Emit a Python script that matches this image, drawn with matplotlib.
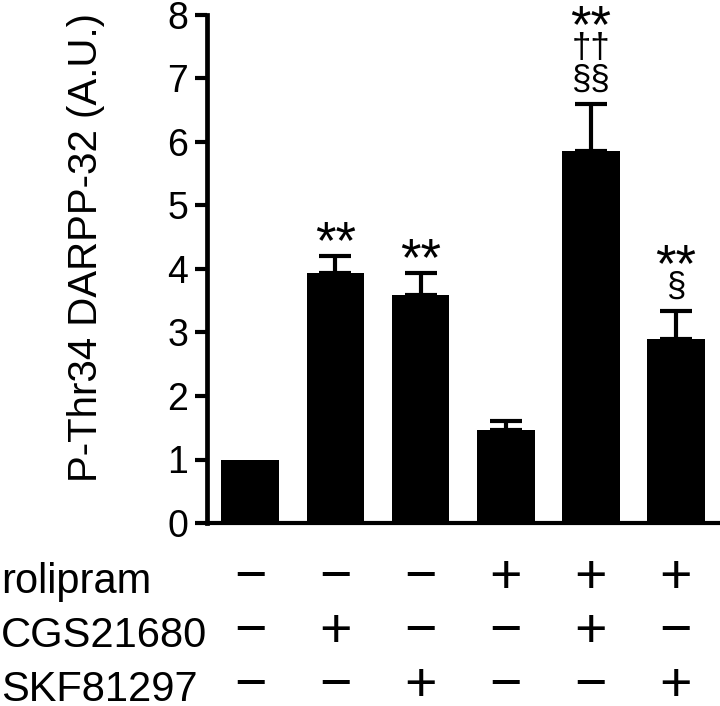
import matplotlib
matplotlib.use("Agg")
import matplotlib.pyplot as plt
import matplotlib.transforms as mtransforms
from matplotlib.textpath import TextPath
from matplotlib.font_manager import FontProperties
import numpy as np

# ---- data ----
values = [1.0, 3.94, 3.59, 1.46, 5.86, 2.90]
sem = [0.0, 0.27, 0.35, 0.15, 0.74, 0.44]
rolipram = ["−", "−", "−", "+", "+", "+"]
cgs21680 = ["−", "+", "−", "−", "+", "−"]
skf81297 = ["−", "−", "+", "−", "−", "+"]
row_labels = ["rolipram", "CGS21680", "SKF81297"]
sections = ["", "", "", "", "§§", "§"]
daggers = ["", "", "", "", "††", ""]
stars = ["", "**", "**", "", "**", "**"]
yticks = [0, 1, 2, 3, 4, 5, 6, 7, 8]
ylabel = "P-Thr34 DARPP-32 (A.U.)"

FONT = "Liberation Sans"
plt.rcParams["font.family"] = [FONT, "DejaVu Sans"]

W, H = 720, 706
fig = plt.figure(figsize=(W / 100, H / 100), dpi=100)
ax = fig.add_axes([207 / W, (H - 523) / H, (W - 207) / W, (523 - 15) / H])

x = np.arange(len(values))
ax.bar(x, values, width=0.68, color="black", edgecolor="black", linewidth=0)
mask = np.array(sem) > 0
ax.errorbar(x[mask], np.array(values)[mask],
            yerr=[np.zeros(mask.sum()), np.array(sem)[mask]],
            fmt="none", ecolor="black", elinewidth=3, capsize=11.5, capthick=3)

ax.set_xlim(-0.51, 5.52)
ax.set_ylim(0, 8)
ax.set_yticks(yticks)
ax.set_xticks([])
for s in ["top", "right"]:
    ax.spines[s].set_visible(False)
ax.spines["left"].set_linewidth(3.4)
ax.spines["bottom"].set_linewidth(3.0)
ax.tick_params(axis="y", direction="out", length=8.6, width=3.0, pad=5,
               labelsize=27)
ax.set_ylabel(ylabel, fontsize=29)
ax.yaxis.set_label_coords(-0.199, 0.543)

# significance markers stacked above error bars
def ink_center(txt, size_pt):
    p = TextPath((0, 0), txt, size=1, prop=FontProperties(family=FONT))
    e = p.get_extents()
    return (e.y0 + e.y1) / 2 * size_pt

px = 0.72  # points per pixel
for i in range(len(values)):
    top = values[i] + sem[i]
    level = 0
    for txt, fs in [(sections[i], 25), (daggers[i], 25), (stars[i], 38)]:
        if not txt:
            continue
        center_px = 25 + 32 * level
        off = center_px * px - ink_center(txt, fs)
        ax.annotate(txt, (x[i], top), xytext=(0, off), textcoords="offset points",
                    ha="center", va="baseline", fontsize=fs)
        level += 1

# treatment table below the axis
blend = mtransforms.blended_transform_factory(ax.transData, fig.transFigure)
baselines = [593, 647, 701]
for lab, row, yb in zip(row_labels, [rolipram, cgs21680, skf81297], baselines):
    fy = (H - yb) / H
    fig.text(1 / W, fy, lab, fontsize=30, ha="left", va="baseline")
    for i, sym in enumerate(row):
        fig.text(x[i], fy, sym, transform=blend, fontsize=40,
                 ha="center", va="baseline")

fig.savefig("out.png", dpi=100)
